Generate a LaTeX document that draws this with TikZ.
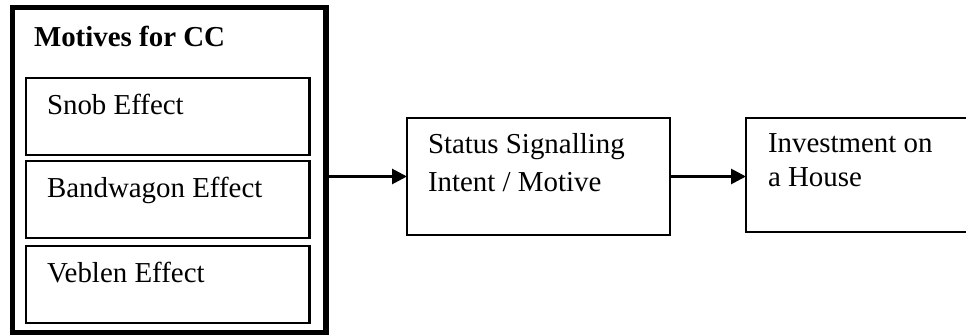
\documentclass[tikz,border=0pt]{standalone}
\usepackage{fontspec}
\setmainfont{Liberation Serif}
\usetikzlibrary{arrows.meta}
\newcommand{\px}{0.467pt}
\begin{document}
\begin{tikzpicture}[x=\px,y=-\px,line width=1pt,font=\fontsize{13.5}{18.2}\selectfont]
\tikzstyle{every node}+=[inner sep=0pt,outer sep=0pt]
\tikzstyle{box}=[draw,rectangle,anchor=north west]
\tikzstyle{txt}=[anchor=base west,align=left]
\tikzstyle{flow}=[line width=1.3pt,-{Triangle[length=7pt,width=7pt]}]
\useasboundingbox (0,0) rectangle (966,336);
\node [box,line width=2.4pt,minimum width=313.5*\px,minimum height=325*\px] (motives) at (12.5,7.5) {};
\node [txt,font=\fontsize{13.5}{18.2}\selectfont\bfseries] (title) at (34,47) {Motives for CC};
\node [box,minimum width=283.5*\px,minimum height=77*\px] (snob) at (26,78) {};
\node [txt] (snobtxt) at (47,115) {Snob Effect};
\node [box,minimum width=283.5*\px,minimum height=77*\px] (band) at (26,161) {};
\node [txt] (bandtxt) at (47,198) {Bandwagon Effect};
\node [box,minimum width=283.5*\px,minimum height=77*\px] (veblen) at (26,246) {};
\node [txt] (veblentxt) at (47,283) {Veblen Effect};
\node [box,minimum width=263*\px,minimum height=117*\px] (status) at (407,118) {};
\node [txt] (statustxt) at (428,192) {Status Signalling\\Intent / Motive};
\node [box,minimum width=240*\px,minimum height=114*\px] (invest) at (746,118) {};
\node [txt,font=\fontsize{13.5}{16}\selectfont] (investtxt) at (768,187) {Investment on\\a House};
\draw [flow] (status.west -| motives.east) -- (status.west);
\draw [flow] (status.east) -- (status.east -| invest.west);
\end{tikzpicture}
\end{document}
